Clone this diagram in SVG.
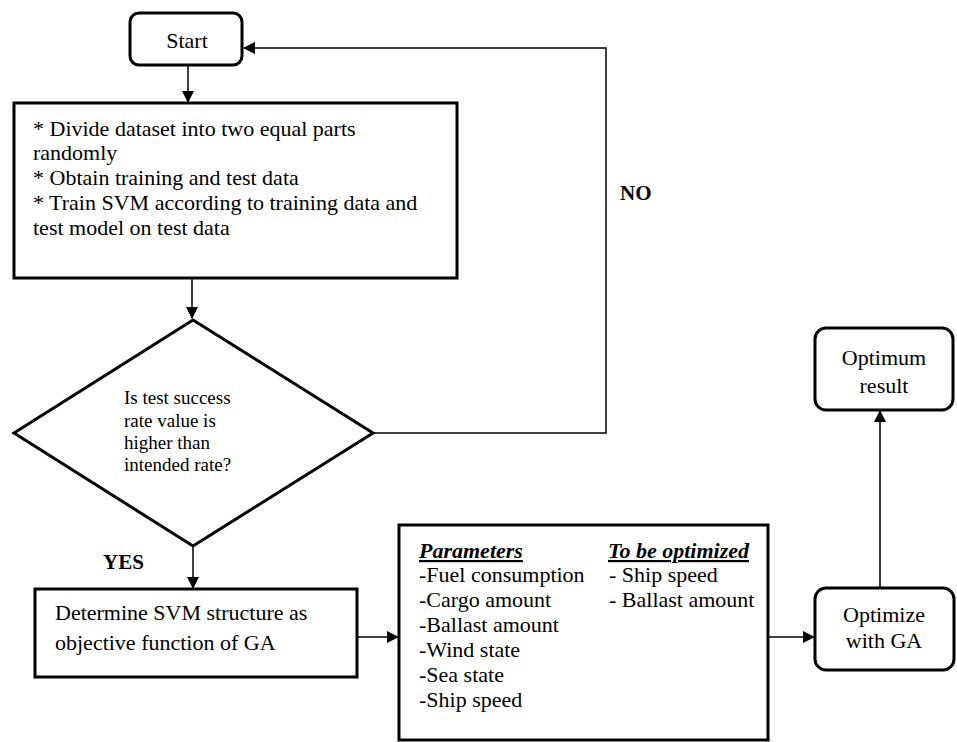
<svg xmlns="http://www.w3.org/2000/svg" width="957" height="742" viewBox="0 0 957 742">
<style>
.box{fill:#fff;stroke:#000;stroke-width:3}
.t{font-size:22px;fill:#000}
.s{font-size:19px}
.b{font-weight:bold;font-size:21px}
.h{font-weight:bold;font-style:italic;text-decoration:underline}
.c{text-anchor:middle}
.ln{fill:none;stroke:#000;stroke-width:1.5}
</style>
<defs>
<marker id="ah" markerWidth="12" markerHeight="12" refX="11" refY="6" orient="auto" markerUnits="userSpaceOnUse">
<path d="M0,0 L12,6 L0,12 z" fill="#000"/>
</marker>
</defs>
<rect width="957" height="742" fill="#fff"/>
<g font-family="Liberation Serif">
<g id="connectors">
<path class="ln" d="M188,65 V102" marker-end="url(#ah)"/>
<path class="ln" d="M192,278 V318" marker-end="url(#ah)"/>
<path class="ln" d="M373,433 H606 V48 H244" marker-end="url(#ah)"/>
<path class="ln" d="M193,546 V588" marker-end="url(#ah)"/>
<path class="ln" d="M357,637 H398" marker-end="url(#ah)"/>
<path class="ln" d="M768,637 H814" marker-end="url(#ah)"/>
<path class="ln" d="M880,588 V411" marker-end="url(#ah)"/>
<text class="t b" x="620" y="200">NO</text>
<text class="t b" x="103" y="569">YES</text>
</g>
<g id="start">
<rect class="box" x="130" y="13" width="112" height="52" rx="9"/>
<text class="t c" x="187" y="48">Start</text>
</g>
<g id="divide">
<rect class="box" x="14" y="103" width="443" height="175"/>
<text class="t" x="33" y="136">* Divide dataset into two equal parts</text>
<text class="t" x="33" y="160">randomly</text>
<text class="t" x="33" y="185">* Obtain training and test data</text>
<text class="t" x="33" y="210">* Train SVM according to training data and</text>
<text class="t" x="33" y="235">test model on test data</text>
</g>
<g id="decision">
<polygon class="box" points="193,320 373,433 193,546 14,433"/>
<text class="t s" x="124" y="404">Is test success</text>
<text class="t s" x="124" y="427">rate value is</text>
<text class="t s" x="124" y="449">higher than</text>
<text class="t s" x="124" y="471">intended rate?</text>
</g>
<g id="determine">
<rect class="box" x="35" y="589" width="322" height="88"/>
<text class="t" x="55" y="620">Determine SVM structure as</text>
<text class="t" x="55" y="650">objective function of GA</text>
</g>
<g id="parameters">
<rect class="box" x="399" y="525" width="369" height="215"/>
<text class="t h" x="419" y="558">Parameters</text>
<text class="t" x="419" y="582">-Fuel consumption</text>
<text class="t" x="419" y="607">-Cargo amount</text>
<text class="t" x="419" y="632">-Ballast amount</text>
<text class="t" x="419" y="657">-Wind state</text>
<text class="t" x="419" y="682">-Sea state</text>
<text class="t" x="419" y="707">-Ship speed</text>
<text class="t h" x="608" y="558">To be optimized</text>
<text class="t" x="609" y="582">- Ship speed</text>
<text class="t" x="609" y="607">- Ballast amount</text>
</g>
<g id="optimize">
<rect class="box" x="815" y="588" width="139" height="82" rx="11"/>
<text class="t c" x="884" y="622">Optimize</text>
<text class="t c" x="884" y="648">with GA</text>
</g>
<g id="optimum">
<rect class="box" x="815" y="328" width="138" height="82" rx="11"/>
<text class="t c" x="884" y="365">Optimum</text>
<text class="t c" x="884" y="393">result</text>
</g>
</g>
</svg>
